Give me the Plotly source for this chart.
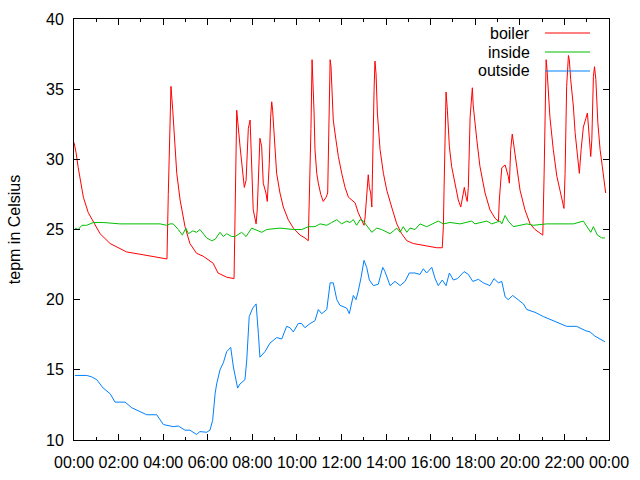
import pandas as pd
import plotly.graph_objects as go

# ---- data (time in decimal hours since midnight, temperature in Celsius) ----
boiler_hours = [0.00, 0.09, 0.19, 0.42, 0.64, 0.87, 1.17, 1.62, 2.36, 3.10, 3.86, 4.17,
                4.23, 4.31, 4.35, 4.43, 4.53, 4.61, 4.76, 4.98, 5.20, 5.50, 5.79, 6.24,
                6.46, 6.85, 7.18, 7.30, 7.45, 7.57, 7.64, 7.72, 7.82, 7.90, 7.97, 8.04,
                8.17, 8.22, 8.34, 8.42, 8.49, 8.61, 8.67, 8.76, 8.82, 8.87, 8.91, 8.94,
                9.02, 9.09, 9.24, 9.39, 9.61, 9.84, 10.14, 10.36, 10.51, 10.59, 10.63,
                10.68, 10.71, 10.74, 10.77, 10.81, 10.89, 10.96, 11.07, 11.18, 11.31,
                11.38, 11.43, 11.49, 11.53, 11.56, 11.63, 11.75, 11.86, 12.01, 12.16,
                12.31, 12.46, 12.61, 12.75, 12.91, 13.01, 13.06, 13.13, 13.20, 13.25,
                13.31, 13.36, 13.40, 13.46, 13.50, 13.55, 13.61, 13.73, 13.88, 14.03,
                14.25, 14.48, 14.70, 14.93, 15.22, 15.52, 15.97, 16.27, 16.52, 16.57,
                16.60, 16.69, 16.75, 16.84, 16.94, 17.09, 17.24, 17.35, 17.44, 17.51,
                17.59, 17.64, 17.69, 17.77, 17.87, 17.91, 18.07, 18.21, 18.44, 18.66,
                18.89, 19.04, 19.08, 19.19, 19.34, 19.41, 19.48, 19.53, 19.59, 19.66,
                19.74, 19.86, 20.01, 20.23, 20.46, 20.68, 20.91, 21.03, 21.09, 21.18,
                21.22, 21.28, 21.35, 21.50, 21.66, 21.80, 21.92, 21.98, 22.03, 22.10,
                22.18, 22.22, 22.28, 22.40, 22.48, 22.58, 22.67, 22.75, 22.85, 22.96,
                23.03, 23.08, 23.15, 23.18, 23.23, 23.30, 23.35, 23.41, 23.50, 23.60,
                23.70, 23.78, 23.85]
boiler_temp = [31.2, 30.5, 29.4, 27.3, 26.2, 25.5, 24.7, 24.0, 23.4, 23.2, 23.0, 22.9,
               27.5, 33.5, 35.2, 33.5, 30.9, 29.0, 27.1, 25.2, 24.0, 23.3, 23.1, 22.6,
               21.9, 21.6, 21.5, 33.5, 30.9, 29.2, 28.0, 28.5, 32.2, 32.8, 29.7, 26.4,
               25.4, 26.4, 31.5, 30.9, 28.3, 27.6, 27.0, 29.7, 33.0, 34.1, 33.5, 32.8,
               30.7, 29.0, 27.6, 26.6, 25.7, 25.1, 24.6, 24.4, 24.2, 29.0, 32.2,
               37.1, 35.9, 35.5, 33.3, 30.7, 29.0, 28.3, 27.5, 27.0, 27.3,
               27.6, 32.3, 37.1, 36.6, 35.7, 32.8, 31.4, 30.2, 29.0, 28.0,
               27.3, 27.1, 26.9, 26.2, 25.6, 25.3, 25.9, 27.8, 28.9, 28.0,
               27.6, 26.6, 31.4, 34.9, 37.0, 36.1, 33.3, 30.7, 29.0, 27.8,
               26.6, 25.4, 24.7, 24.2, 24.0, 23.9, 23.8, 23.7, 23.7, 25.2,
               27.8, 34.8, 33.5, 30.9, 29.5, 28.3, 27.1, 26.6, 27.6, 28.0,
               27.3, 27.0, 28.0, 33.0, 35.1, 33.8, 31.4, 29.5, 27.6, 26.4,
               25.8, 25.6, 27.1, 29.4, 29.6, 29.2, 28.8, 28.3, 30.7, 31.8,
               30.9, 29.2, 27.8, 26.4, 25.4, 25.0, 24.7, 24.6, 29.0, 37.1,
               36.4, 34.9, 33.0, 30.7, 28.8, 27.8, 26.9, 26.5, 29.0, 35.2,
               37.4, 37.1, 35.7, 33.8, 31.9, 30.4, 29.0, 30.7, 32.3, 32.9,
               33.3, 32.3, 30.9, 30.2, 31.4, 35.9, 36.6, 35.7, 32.6, 30.7,
               29.5, 28.5, 27.6]

inside_hours = [0.04, 0.19, 0.35, 0.57, 0.87, 1.31, 2.06, 2.36, 2.96, 3.86, 4.16, 4.31,
                4.45, 4.68, 4.86, 5.02, 5.13, 5.33, 5.50, 5.65, 5.95, 6.18, 6.33, 6.55,
                6.70, 6.85, 7.07, 7.22, 7.52, 7.72, 7.97, 8.12, 8.42, 8.65, 9.24, 9.84,
                10.22, 10.51, 10.81, 11.04, 11.34, 11.56, 11.79, 12.01, 12.23, 12.38,
                12.53, 12.68, 12.83, 12.98, 13.13, 13.36, 13.58, 13.80, 14.18, 14.48,
                14.63, 14.77, 14.93, 15.07, 15.30, 15.52, 15.82, 16.12, 16.34, 16.57,
                16.87, 17.32, 17.84, 17.99, 18.52, 18.74, 19.11, 19.19, 19.34, 19.48,
                19.71, 20.01, 20.31, 20.61, 21.21, 21.80, 22.40, 22.85, 23.08, 23.18,
                23.30, 23.48, 23.67, 23.82]
inside_temp = [25.1, 25.0, 25.3, 25.3, 25.5, 25.5, 25.4, 25.4, 25.4, 25.4, 25.3, 25.4,
               25.4, 25.0, 24.6, 25.1, 24.7, 24.9, 24.8, 25.0, 24.4, 24.2, 24.3, 24.8,
               24.5, 24.7, 24.5, 24.5, 24.8, 24.5, 25.1, 25.0, 24.8, 25.0, 25.1, 25.0,
               25.0, 25.2, 25.2, 25.4, 25.3, 25.5, 25.7, 25.4, 25.6, 25.5,
               25.7, 25.3, 25.7, 25.6, 25.3, 24.8, 25.1, 25.0, 24.7, 25.1,
               24.8, 25.2, 24.8, 25.1, 25.0, 25.4, 25.2, 25.4, 25.6, 25.4,
               25.5, 25.4, 25.6, 25.4, 25.6, 25.4, 25.6, 25.4, 26.0, 25.6,
               25.2, 25.3, 25.4, 25.3, 25.4, 25.4, 25.4, 25.6, 25.0, 24.8,
               25.2, 24.6, 24.4, 24.4]

outside_hours = [0.04, 0.57, 0.79, 1.02, 1.31, 1.62, 1.84, 2.29, 2.59, 2.96, 3.26, 3.71,
                 3.86, 4.01, 4.31, 4.45, 4.68, 4.98, 5.20, 5.50, 5.65, 5.95, 6.10, 6.22,
                 6.33, 6.40, 6.55, 6.70, 6.85, 7.03, 7.15, 7.34, 7.45, 7.67, 7.75, 7.86,
                 8.02, 8.17, 8.27, 8.34, 8.57, 8.79, 9.09, 9.32, 9.54, 9.69, 9.84, 10.06,
                 10.21, 10.36, 10.59, 10.81, 10.96, 11.11, 11.34, 11.49, 11.63, 11.79,
                 11.93, 12.23, 12.35, 12.53, 12.65, 12.75, 12.88, 13.01, 13.13, 13.25,
                 13.43, 13.65, 13.85, 13.95, 14.18, 14.40, 14.63, 14.85, 15.04, 15.30,
                 15.52, 15.67, 15.82, 16.05, 16.20, 16.34, 16.52, 16.69, 16.84, 17.02,
                 17.20, 17.50, 17.69, 17.89, 18.14, 18.36, 18.66, 18.84, 19.04, 19.19,
                 19.34, 19.48, 19.68, 19.93, 20.16, 20.31, 20.68, 21.05, 21.43, 21.80,
                 22.10, 22.55, 22.93, 23.15, 23.37, 23.82]
outside_temp = [14.6, 14.6, 14.5, 14.3, 13.7, 13.3, 12.7, 12.7, 12.3, 12.0, 11.8, 11.8,
                11.4, 11.1, 11.0, 10.95, 11.0, 10.7, 10.7, 10.4, 10.6, 10.55, 10.7, 11.4,
                13.3, 14.0, 15.0, 15.5, 16.3, 16.6, 15.2, 13.7, 14.0, 14.3, 15.7, 18.8,
                19.4, 19.7, 17.6, 15.9, 16.3, 16.9, 17.3, 17.2, 18.1, 18.0, 17.7, 18.3,
                18.3, 18.0, 18.3, 18.5, 19.3, 19.0, 19.3, 21.2, 21.2, 20.0,
                19.6, 19.4, 19.0, 20.3, 20.0, 20.6, 21.6, 22.8, 22.3, 21.4,
                21.0, 21.1, 22.3, 22.0, 21.0, 21.3, 21.0, 21.3, 21.9, 21.9,
                21.8, 22.2, 21.9, 22.3, 21.5, 21.0, 21.4, 21.0, 21.9, 21.4,
                21.5, 22.0, 21.8, 21.3, 21.45, 21.2, 21.0, 21.5, 21.2, 21.3,
                20.2, 20.0, 20.3, 20.0, 19.7, 19.3, 19.1, 18.8, 18.55, 18.3,
                18.1, 18.1, 17.8, 17.7, 17.4, 17.0]

series_names = ["boiler", "inside", "outside"]
series_colors = ["#ff0000", "#00c000", "#0080ff"]

base = pd.Timestamp("2024-01-01 00:00")


def to_time(hours):
    return base + pd.to_timedelta(hours, unit="h")


series = [
    (boiler_hours, boiler_temp),
    (inside_hours, inside_temp),
    (outside_hours, outside_temp),
]

fig = go.Figure()
for (hrs, vals), name, col in zip(series, series_names, series_colors):
    fig.add_trace(go.Scatter(x=to_time(hrs), y=vals, mode="lines", name=name,
                             line=dict(color=col, width=1), showlegend=False))

FONT = "Liberation Sans, Arial, sans-serif"
L, R, T, B = 74, 609, 19, 440
W, H = 640, 480

# gnuplot-style key: text right-aligned, line sample to the right
key_rows_y = [33, 52, 71]
for name, col, py in zip(series_names, series_colors, key_rows_y):
    yp = (B - py) / (B - T)
    fig.add_annotation(x=(532 - L) / (R - L), y=yp, xref="paper", yref="paper",
                       text=name, showarrow=False, xanchor="right", yanchor="middle",
                       font=dict(family=FONT, size=16, color="#000000"))
    fig.add_shape(type="line", xref="paper", yref="paper",
                  x0=(545 - L) / (R - L), x1=(590 - L) / (R - L), y0=yp, y1=yp,
                  line=dict(color=col, width=1))

fig.update_layout(
    template="none",
    width=W, height=H,
    margin=dict(l=L, r=W - R, t=T, b=H - B, pad=0, autoexpand=False),
    paper_bgcolor="white", plot_bgcolor="white",
    font=dict(family=FONT, size=16, color="#000000"),
    xaxis=dict(
        type="date", automargin=False,
        range=[base, base + pd.Timedelta(hours=24)],
        dtick=2 * 3600 * 1000, tick0=base, tickformat="%H:%M",
        ticks="inside", ticklen=6, tickcolor="black", tickwidth=1,
        minor=dict(ticks="inside", dtick=3600 * 1000, ticklen=3, tickcolor="black", showgrid=False),
        showline=True, linecolor="black", linewidth=1, mirror="ticks",
        showgrid=False, zeroline=False, ticklabelstandoff=8,
        tickfont=dict(family=FONT, size=16),
    ),
    yaxis=dict(
        range=[10, 40], dtick=5, tick0=10, automargin=False,
        ticks="inside", ticklen=6, tickcolor="black", tickwidth=1,
        showline=True, linecolor="black", linewidth=1, mirror="ticks",
        showgrid=False, zeroline=False, ticklabelstandoff=6,
        title=dict(text="tepm in Celsius", font=dict(family=FONT, size=16), standoff=21),
        tickfont=dict(family=FONT, size=16),
    ),
)

fig.write_html("out.html", config={"displayModeBar": False},
               post_script="document.body.style.margin='0';")
